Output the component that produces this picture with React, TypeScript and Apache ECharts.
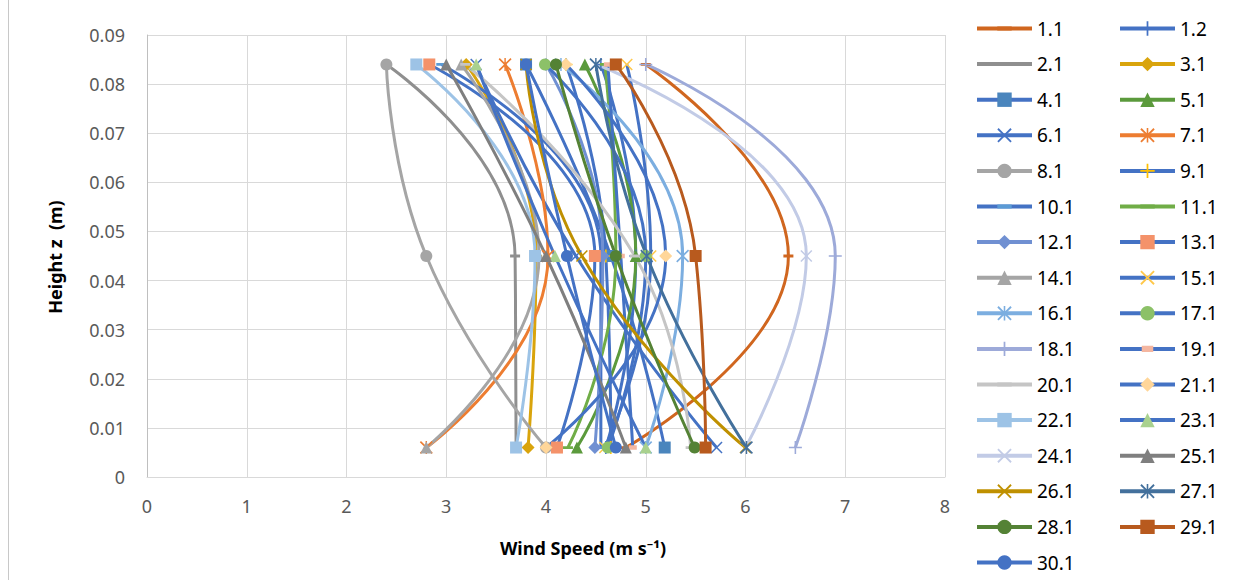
import React, { useEffect, useRef } from "react";
import * as echarts from "echarts";

// Measurement heights (m)
const heights = [0.006, 0.045, 0.084];

const seriesNames = [
  "1.1", "1.2", "2.1", "3.1", "4.1", "5.1", "6.1", "7.1", "8.1", "9.1",
  "10.1", "11.1", "12.1", "13.1", "14.1", "15.1", "16.1", "17.1", "18.1", "19.1",
  "20.1", "21.1", "22.1", "23.1", "24.1", "25.1", "26.1", "27.1", "28.1", "29.1", "30.1",
];

// Wind speed (m/s) at each height, per series (same order as seriesNames)
const speedAtBottom = [
  4.8, 4.6, 3.7, 3.82, 5.19, 4.31, 5.71, 2.8, 4.0, 4.65,
  4.55, 4.22, 4.49, 4.11, 2.8, 4.59, 5.0, 4.62, 6.5, 4.87,
  5.45, 4.0, 3.7, 5.0, 6.0, 4.8, 6.0, 6.01, 5.49, 5.6, 4.7,
];
const speedAtMiddle = [
  6.43, 4.9, 3.69, 3.9, 4.65, 4.9, 4.3, 4.02, 2.8, 4.6,
  4.55, 4.7, 4.57, 4.49, 3.93, 5.05, 5.37, 5.0, 6.9, 4.75,
  4.89, 5.2, 3.89, 4.09, 6.61, 4.0, 4.36, 5.01, 4.7, 5.5, 4.21,
];
const speedAtTop = [
  5.0, 4.55, 2.4, 3.2, 3.8, 4.39, 3.3, 3.59, 2.4, 4.2,
  2.95, 4.59, 4.0, 2.83, 3.15, 4.81, 4.15, 3.99, 5.0, 4.62,
  3.19, 4.2, 2.7, 3.3, 4.5, 3.0, 3.8, 4.5, 4.1, 4.7, 3.8,
];

const xTicks = [0, 8, 1];
const yTicks = [0, 0.09, 0.01];

// [line colour, marker kind, marker colour]
const seriesStyles: [string, string, string][] = [
  ["#D0661F", "dash", "#D0661F"],
  ["#4472C4", "plus", "#4472C4"],
  ["#8F8F8F", "dash", "#8F8F8F"],
  ["#D9A40C", "diamond", "#D9A40C"],
  ["#4472C4", "rect", "#4A85BD"],
  ["#5B9A3C", "triangle", "#5B9A3C"],
  ["#4472C4", "x", "#4472C4"],
  ["#ED7D31", "star", "#ED7D31"],
  ["#A5A5A5", "circle", "#A5A5A5"],
  ["#4472C4", "plus", "#FFC000"],
  ["#4472C4", "dash", "#5B9BD5"],
  ["#70AD47", "dash", "#70AD47"],
  ["#7090D2", "diamond", "#7090D2"],
  ["#4472C4", "rect", "#F4926A"],
  ["#A5A5A5", "triangle", "#A5A5A5"],
  ["#4472C4", "x", "#FFC84A"],
  ["#7CAEE0", "star", "#7CAEE0"],
  ["#4472C4", "circle", "#8CC168"],
  ["#9DAAD9", "plus", "#9DAAD9"],
  ["#4472C4", "smallrect", "#F4B6A0"],
  ["#C5C5C5", "dash", "#C5C5C5"],
  ["#4472C4", "diamond", "#FFD699"],
  ["#9DC3E6", "rect", "#9DC3E6"],
  ["#4472C4", "triangle", "#A9D18E"],
  ["#C2CBE6", "x", "#C2CBE6"],
  ["#7F7F7F", "triangle", "#7F7F7F"],
  ["#BF9000", "x", "#BF9000"],
  ["#43709C", "star", "#43709C"],
  ["#548235", "circle", "#548235"],
  ["#B85A1E", "rect", "#B85A1E"],
  ["#4472C4", "circle", "#4472C4"],
];

const P_X = "M0,0.9L0.9,0L5,4.1L9.1,0L10,0.9L5.9,5L10,9.1L9.1,10L5,5.9L0.9,10L0,9.1L4.1,5Z";
const P_PLUS = "M4.4,0L5.6,0L5.6,4.4L10,4.4L10,5.6L5.6,5.6L5.6,10L4.4,10L4.4,5.6L0,5.6L0,4.4L4.4,4.4Z";
const P_STAR = P_X + "M4.45,0L5.55,0L5.55,10L4.45,10Z";
// thin bar inside a square box (zero-area sub-paths fix the bounding box)
const P_DASH = "M0,0L10,0L0,0ZM0,3.6L10,3.6L10,6.4L0,6.4ZM0,10L10,10L0,10Z";
const P_SMALLRECT = "M0,0L10,0L0,0ZM1,2.8L9,2.8L9,7.2L1,7.2ZM0,10L10,10L0,10Z";

function symbolFor(kind: string): { symbol: string; symbolSize: number | number[] } {
  switch (kind) {
    case "circle": return { symbol: "circle", symbolSize: 12 };
    case "rect": return { symbol: "rect", symbolSize: 12 };
    case "triangle": return { symbol: "triangle", symbolSize: 12 };
    case "diamond": return { symbol: "diamond", symbolSize: 13 };
    case "x": return { symbol: "path://" + P_X, symbolSize: 12 };
    case "plus": return { symbol: "path://" + P_PLUS, symbolSize: 13 };
    case "star": return { symbol: "path://" + P_STAR, symbolSize: 13 };
    case "smallrect": return { symbol: "path://" + P_SMALLRECT, symbolSize: 10 };
    default: return { symbol: "path://" + P_DASH, symbolSize: 10 };
  }
}

export default function App() {
  const ref = useRef<HTMLDivElement>(null);

  useEffect(() => {
    document.body.style.margin = "0";
    if (!ref.current) return;
    const chart = echarts.init(ref.current, undefined, { renderer: "svg" });

    const series = seriesNames.map((name, i) => {
      const [lineColor, kind, markerColor] = seriesStyles[i];
      const sym = symbolFor(kind);
      return {
        name,
        type: "line",
        smooth: 0.5,
        data: [
          [speedAtBottom[i], heights[0]],
          [speedAtMiddle[i], heights[1]],
          [speedAtTop[i], heights[2]],
        ],
        symbol: sym.symbol,
        symbolSize: sym.symbolSize,
        showSymbol: true,
        lineStyle: { color: lineColor, width: 3 },
        itemStyle: { color: markerColor, borderWidth: 0 },
        emphasis: { disabled: true },
      };
    });

    const col1 = seriesNames.filter((_, i) => i % 2 === 0);
    const col2 = seriesNames.filter((_, i) => i % 2 === 1);
    const legendCommon = {
      orient: "vertical",
      top: 19,
      height: 1000,
      padding: 0,
      itemWidth: 55,
      itemHeight: 18,
      itemGap: 16.6,
      selectedMode: false,
      lineStyle: { width: 4 },
      textStyle: { fontSize: 19, color: "#000", fontFamily: "Noto Sans" },
    };

    chart.setOption({
      animation: false,
      backgroundColor: "#fff",
      grid: { left: 147, right: 301, top: 35, bottom: 103, containLabel: false },
      xAxis: {
        type: "value",
        min: xTicks[0],
        max: xTicks[1],
        interval: xTicks[2],
        axisLine: { show: true, lineStyle: { color: "#D9D9D9", width: 1 } },
        axisTick: { show: false },
        splitLine: { show: true, lineStyle: { color: "#D9D9D9", width: 1 } },
        axisLabel: { color: "#595959", fontSize: 18, fontFamily: "Noto Sans", margin: 20 },
      },
      yAxis: {
        type: "value",
        min: yTicks[0],
        max: yTicks[1],
        interval: yTicks[2],
        axisLine: { show: true, lineStyle: { color: "#BFBFBF", width: 1 } },
        axisTick: { show: false },
        splitLine: { show: true, lineStyle: { color: "#D9D9D9", width: 1 } },
        axisLabel: {
          color: "#595959",
          fontSize: 18,
          fontFamily: "Noto Sans",
          margin: 22,
          formatter: (v: number) => (v === 0 ? "0" : v.toFixed(2)),
        },
      },
      legend: [
        { ...legendCommon, left: 975, data: col1 },
        { ...legendCommon, left: 1118, data: col2 },
      ],
      graphic: [
        {
          type: "line",
          shape: { x1: 8.5, y1: 0, x2: 8.5, y2: 580 },
          style: { stroke: "#C8C8C8", lineWidth: 1 },
        },
        {
          type: "text",
          x: 55,
          y: 257,
          rotation: Math.PI / 2,
          style: {
            text: "Height z  (m)",
            fontSize: 18,
            fontWeight: "bold",
            fontFamily: "Noto Sans",
            fill: "#000",
            align: "center",
            verticalAlign: "middle",
          },
        },
        {
          type: "text",
          x: 583,
          y: 548,
          style: {
            text: "Wind Speed (m s⁻¹)",
            fontSize: 18,
            fontWeight: "bold",
            fontFamily: "Noto Sans",
            fill: "#000",
            align: "center",
            verticalAlign: "middle",
          },
        },
      ],
      series,
    });

    return () => chart.dispose();
  }, []);

  return <div ref={ref} style={{ width: 1246, height: 580 }} />;
}
